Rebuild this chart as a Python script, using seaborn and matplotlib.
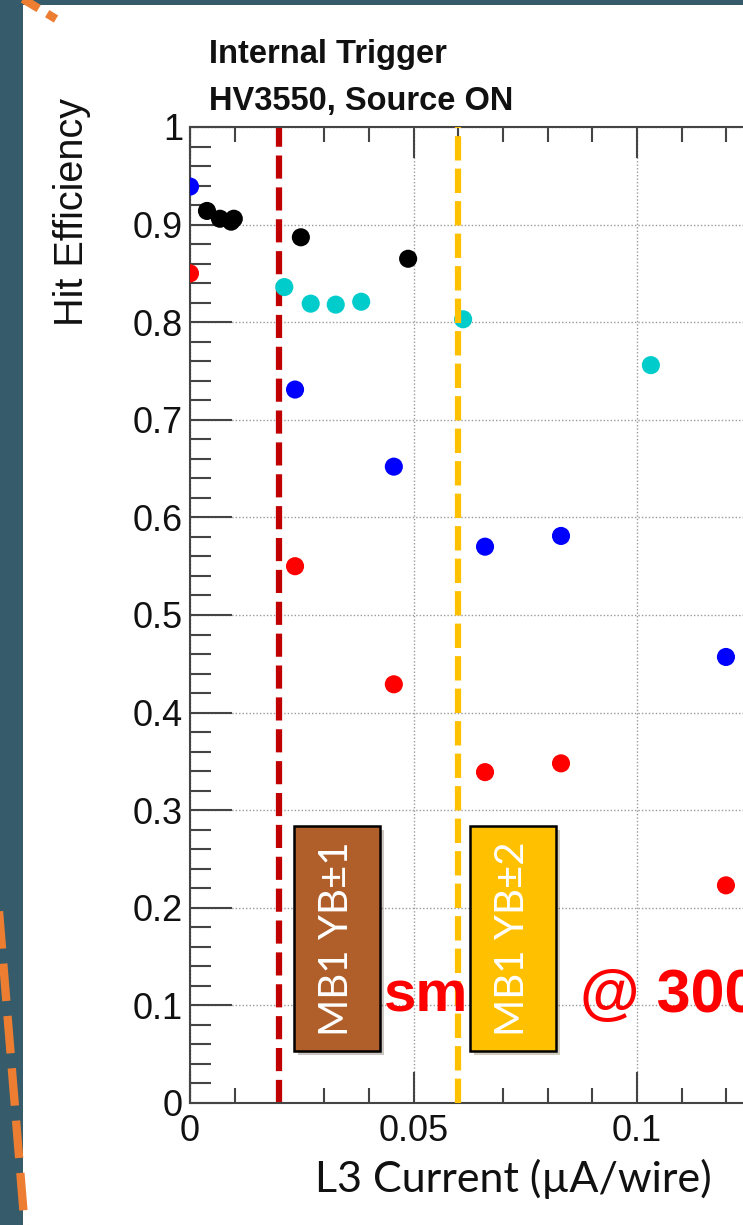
import numpy as np
import pandas as pd
import seaborn as sns
import matplotlib
matplotlib.use("Agg")
import matplotlib.pyplot as plt
from matplotlib.patches import Rectangle
from matplotlib.lines import Line2D
from matplotlib.ticker import MultipleLocator, FixedLocator, FixedFormatter
import matplotlib.patheffects as pe

# ---- measured hit efficiency vs L3 current ----
blue_current = [0.0, 0.0235, 0.0456, 0.0660, 0.0830, 0.1199]
blue_eff = [0.939, 0.731, 0.652, 0.570, 0.581, 0.457]

red_current = [0.0, 0.0235, 0.0456, 0.0660, 0.0830, 0.1199]
red_eff = [0.850, 0.550, 0.429, 0.339, 0.348, 0.223]

black_current = [0.0038, 0.0067, 0.0092, 0.0098, 0.0248, 0.0488]
black_eff = [0.914, 0.906, 0.903, 0.906, 0.887, 0.865]

cyan_current = [0.0211, 0.0270, 0.0326, 0.0383, 0.0611, 0.1031]
cyan_eff = [0.836, 0.819, 0.818, 0.821, 0.803, 0.756]

series_names = ["blue", "red", "black", "cyan"]
series_colors = ["#0000ff", "#ff0000", "#000000", "#00cccc"]

# reference current levels for the two wheel groups
wheel_limits = [0.02, 0.06]
wheel_labels = ["MB1 YB\u00b11", "MB1 YB\u00b12"]

y_ticks = [0.0, 0.1, 0.2, 0.3, 0.4, 0.5, 0.6, 0.7, 0.8, 0.9, 1.0]
y_ticklabels = ["0", "0.1", "0.2", "0.3", "0.4", "0.5", "0.6", "0.7", "0.8", "0.9", "1"]
x_ticks = [0.0, 0.05, 0.1]
x_ticklabels = ["0", "0.05", "0.1"]

df = pd.concat([
    pd.DataFrame({"current": blue_current, "eff": blue_eff, "set": "blue"}),
    pd.DataFrame({"current": red_current, "eff": red_eff, "set": "red"}),
    pd.DataFrame({"current": black_current, "eff": black_eff, "set": "black"}),
    pd.DataFrame({"current": cyan_current, "eff": cyan_eff, "set": "cyan"}),
], ignore_index=True)

sns.set_style("ticks")
plt.rcParams["font.family"] = ["Liberation Sans", "DejaVu Sans"]

W, H = 743, 1225
fig = plt.figure(figsize=(W / 100, H / 100), dpi=100, facecolor="#365c6b")


def fx(px):
    return px / W


def fy(py):
    return 1 - py / H


# white slide panel (drawn beneath the axes)
fig.patches.append(Rectangle((fx(23), 0), 1 - fx(23), fy(5), transform=fig.transFigure,
                             facecolor="white", edgecolor="none", zorder=-10))

# axes: x=0 at px 190, y=0 at px 1103, y=1 at px 127
x_right = (W - 190) / 4470.0
ax = fig.add_axes([fx(190), fy(1103), 1 - fx(190), fy(127) - fy(1103)])
ax.set_facecolor("none")
ax.set_zorder(1)

ax.grid(True, which="major", color="#9a9a9a", linestyle=(0, (1, 1.5)), linewidth=1.0, zorder=0)

# vertical reference lines
ax.axvline(wheel_limits[0], color="#c00000", linewidth=4.5, dashes=(3.7, 1.4), zorder=2)
ax.axvline(wheel_limits[1], color="#ffc000", linewidth=4.5, dashes=(3.9, 1.3), zorder=4)

sns.scatterplot(data=df, x="current", y="eff", hue="set", hue_order=series_names,
                palette=series_colors, s=170, edgecolor="none", legend=False,
                ax=ax, zorder=3)

ax.set_xlim(0, x_right)
ax.set_ylim(0, 1)

ax.xaxis.set_major_locator(FixedLocator(x_ticks))
ax.xaxis.set_major_formatter(FixedFormatter(x_ticklabels))
ax.xaxis.set_minor_locator(MultipleLocator(0.01))
ax.yaxis.set_major_locator(FixedLocator(y_ticks))
ax.yaxis.set_major_formatter(FixedFormatter(y_ticklabels))
ax.yaxis.set_minor_locator(MultipleLocator(0.02))

ax.tick_params(axis="x", which="both", direction="in", top=True, bottom=True,
               color="#444444", width=1.5, labelsize=26, pad=8, labelcolor="#111111")
ax.tick_params(axis="x", which="major", length=22)
ax.tick_params(axis="x", which="minor", length=11)
ax.tick_params(axis="y", which="both", direction="in", left=True, right=False,
               color="#444444", width=1.5, labelsize=26, pad=5, labelcolor="#111111")
ax.tick_params(axis="y", which="major", length=30)
ax.tick_params(axis="y", which="minor", length=15)

for side in ["left", "bottom", "top"]:
    ax.spines[side].set_color("#444444")
    ax.spines[side].set_linewidth(1.5)
ax.spines["right"].set_visible(False)

ax.set_xlabel("")
ax.set_ylabel("")

# axis titles
fig.text(fx(72), fy(212), "Hit Efficiency", rotation=90, ha="center", va="center",
         fontsize=28.5, color="#111111")
fig.text(fx(513), fy(1192), "L3 Current (\u00b5A/wire)", ha="center", va="baseline",
         fontsize=31, family=["Lato", "DejaVu Sans"], color="#111111")

# plot header
fig.text(fx(209), fy(63), "Internal Trigger", ha="left", va="baseline",
         fontsize=23.5, fontweight="bold", color="#111111")
fig.text(fx(209), fy(110), "HV3550, Source ON", ha="left", va="baseline",
         fontsize=23.5, fontweight="bold", color="#111111")

# red overlay text
fig.text(fx(384), fy(1012), "sm", ha="left", va="baseline", fontsize=42,
         fontweight="bold", color="#ff0000", zorder=3)
fig.text(fx(580), fy(1012), "@ 300", ha="left", va="baseline", fontsize=44,
         fontweight="bold", color="#ff0000", zorder=3)

# wheel label boxes
boxes = [(294, "#b05e2a"), (470, "#ffc000")]
for (left_px, face), label in zip(boxes, wheel_labels):
    rect = Rectangle((fx(left_px), fy(1051)), fx(86), fy(826) - fy(1051),
                     transform=fig.transFigure, facecolor=face, edgecolor="black",
                     linewidth=1.8, zorder=6)
    rect.set_path_effects([pe.SimplePatchShadow(offset=(3, -3), alpha=0.25), pe.Normal()])
    fig.patches.append(rect)
    fig.text(fx(left_px + 43), fy(938.5), label, rotation=90, ha="center", va="center",
             fontsize=29, color="white", family=["Lato", "DejaVu Sans"], zorder=7)

# orange dashed frame segments
fig.add_artist(Line2D([fx(-6), fx(25)], [fy(850), fy(1230)], color="#ed7d31",
                      linewidth=6, dashes=(4.5, 1.8), zorder=8))
fig.add_artist(Line2D([fx(18), fx(56)], [fy(-4), fy(19)], color="#ed7d31",
                      linewidth=6, dashes=(2.2, 1.2), zorder=8))

fig.savefig("out.png", dpi=100, facecolor=fig.get_facecolor())
